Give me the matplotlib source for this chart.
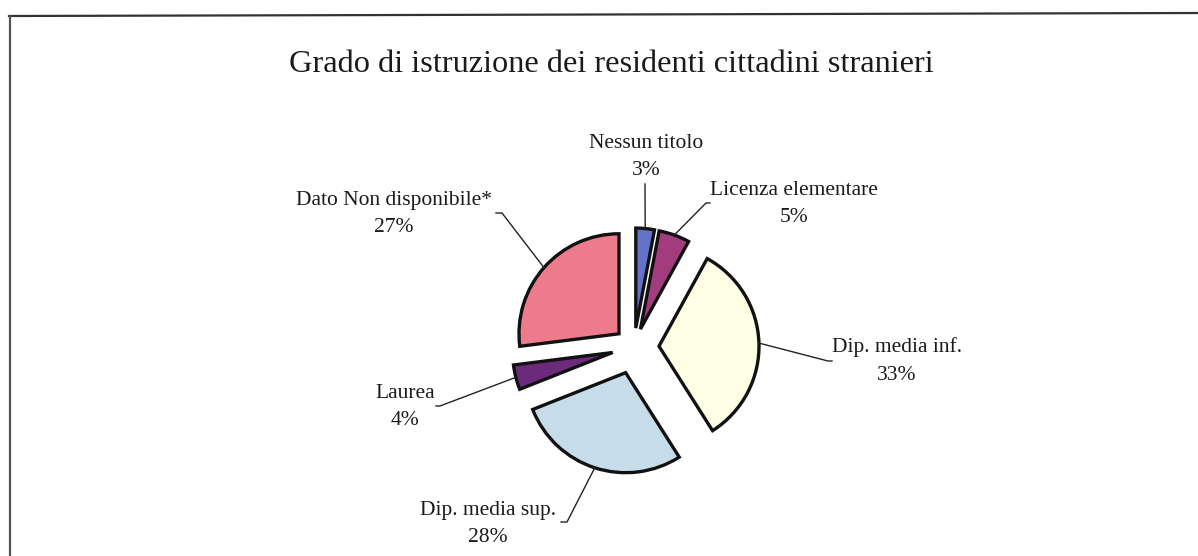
import numpy as np
import matplotlib
matplotlib.use("Agg")
import matplotlib.pyplot as plt
from matplotlib.lines import Line2D

# ---- data ----
categories = ["Nessun titolo", "Licenza elementare", "Dip. media inf.",
              "Dip. media sup.", "Laurea", "Dato Non disponibile*"]
values = [3, 5, 33, 28, 4, 27]
colors = ["#6373C9", "#A23C7C", "#FFFFE6", "#C6DDE9", "#6B2A7A", "#EE7B8C"]
explode = [0.19, 0.19, 0.25, 0.27, 0.22, 0.20]
title = "Grado di istruzione dei residenti cittadini stranieri"

# ---- layout (pixels in a 1198x556 canvas) ----
W, H = 1198, 556
CX, CY, R = 634, 347, 100  # pie centre and radius in pixels

def px(x, y):
    return ((x - CX) / R, (CY - y) / R)

# label text positions (centre of two-line block) and leader elbows
label_pos = [(646, 157), (794, 204), (897, 361), (488, 524), (405, 407), (394, 214)]
leader_pts = [
    [(645, 184)],
    [(706, 203), (710, 203)],
    [(828, 361), (832, 361)],
    [(567, 522), (561, 522)],
    [(440, 406), (436, 406)],
    [(502, 213), (496, 213)],
]

fig = plt.figure(figsize=(W / 100, H / 100), dpi=100)
ax = fig.add_axes([0, 0, 1, 1])

wedges, _ = ax.pie(values, colors=colors, explode=explode, startangle=90,
                   counterclock=False, radius=1.0, center=(0, 0),
                   wedgeprops=dict(edgecolor="#111111", linewidth=2.4))
ax.set_xlim(-CX / R, (W - CX) / R)
ax.set_ylim(-(H - CY) / R, CY / R)
ax.set_aspect("equal")
ax.axis("off")

serif = "Liberation Serif"
for w, cat, v, lp, pts in zip(wedges, categories, values, label_pos, leader_pts):
    ang = np.deg2rad((w.theta1 + w.theta2) / 2)
    cx, cy = w.center
    sx, sy = cx + w.r * np.cos(ang), cy + w.r * np.sin(ang)
    xs = [sx] + [px(*p)[0] for p in pts]
    ys = [sy] + [px(*p)[1] for p in pts]
    ax.add_line(Line2D(xs, ys, color="#222222", linewidth=1.0))
    tx, ty = px(*lp)
    ax.text(tx, ty, f"{cat}\n{v}%", ha="center", va="center",
            fontsize=15.5, family=serif, color="#1a1a1a", linespacing=1.6)

# title
tx, ty = px(611, 65)
ax.text(tx, ty, title, ha="center", va="center", fontsize=23.3,
        family=serif, color="#1a1a1a")

# frame (cropped at right and bottom)
fig.add_artist(Line2D([9 / W, 1.0], [1 - 16 / H, 1 - 13 / H],
                      transform=fig.transFigure, color="#333333", linewidth=1.6))
fig.add_artist(Line2D([9.5 / W, 9.5 / W], [1 - 16 / H, 0.0],
                      transform=fig.transFigure, color="#555555", linewidth=1.6))

fig.savefig("out.png", dpi=100, facecolor="white")
